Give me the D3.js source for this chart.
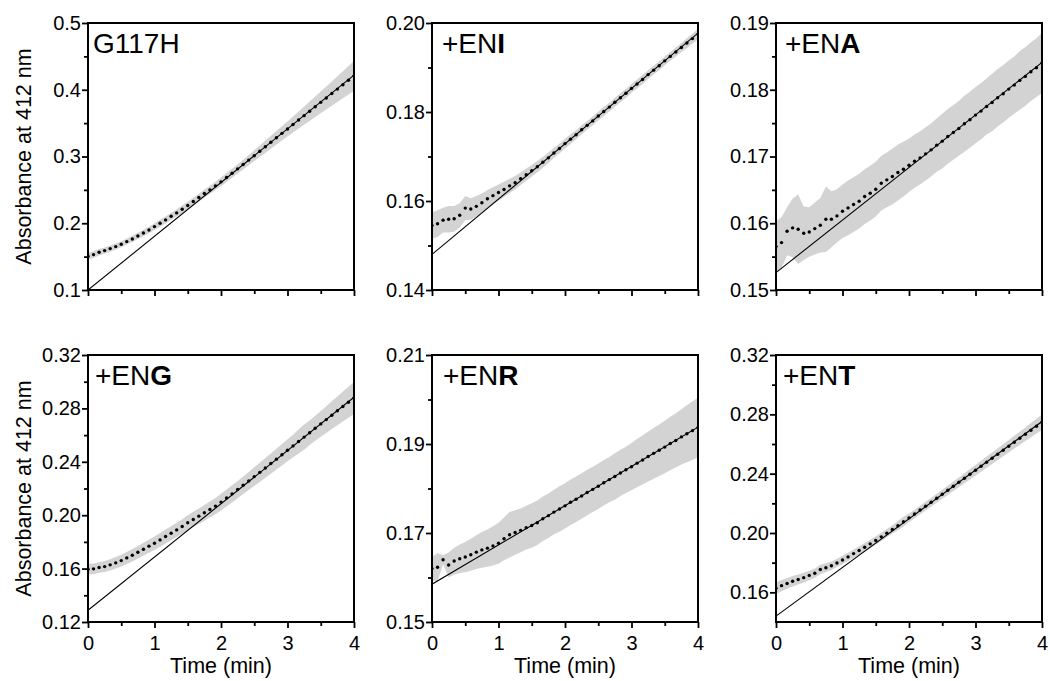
<!DOCTYPE html>
<html>
<head>
<meta charset="utf-8">
<script src="https://cdn.jsdelivr.net/npm/d3@7"></script>
<style>
  html, body { margin: 0; padding: 0; background: #fff; }
  svg { display: block; font-family: "Liberation Sans", Arial, Helvetica, sans-serif; }
</style>
</head>
<body>
<svg id="chart" width="1050" height="681"></svg>
<script>
// Sampling times of the plate reader, in seconds (one read every 5 s for 4 min)
const TIME_S = [0, 5, 10, 15, 20, 25, 30, 35, 40, 45, 50, 55, 60, 65, 70, 75, 80, 85, 90, 95,
  100, 105, 110, 115, 120, 125, 130, 135, 140, 145, 150, 155, 160, 165, 170, 175, 180, 185, 190, 195,
  200, 205, 210, 215, 220, 225, 230, 235, 240];

// Panel titles: plain part and bold residue letter
const TITLE_PLAIN = ["G117H", "+EN", "+EN", "+EN", "+EN", "+EN"];
const TITLE_BOLD  = ["", "I", "A", "G", "R", "T"];

// Mean absorbance at 412 nm
const MEAN_G117H = [0.1505, 0.1530, 0.1565, 0.1590, 0.1620, 0.1650, 0.1685, 0.1725, 0.1765, 0.1810,
  0.1855, 0.1900, 0.1950, 0.2000, 0.2050, 0.2105, 0.2155, 0.2210, 0.2265, 0.2325,
  0.2385, 0.2445, 0.2500, 0.2560, 0.2620, 0.2685, 0.2750, 0.2815, 0.2880, 0.2946,
  0.3012, 0.3079, 0.3146, 0.3213, 0.3280, 0.3347, 0.3413, 0.3480, 0.3546, 0.3612,
  0.3678, 0.3745, 0.3811, 0.3877, 0.3943, 0.4010, 0.4076, 0.4142, 0.4208];
const MEAN_ENI = [0.1545, 0.1549, 0.1557, 0.1559, 0.1560, 0.1568, 0.1584, 0.1582, 0.1588, 0.1596,
  0.1605, 0.1612, 0.1619, 0.1626, 0.1634, 0.1641, 0.1650, 0.1659, 0.1668, 0.1677,
  0.1687, 0.1697, 0.1708, 0.1718, 0.1729, 0.1739, 0.1749, 0.1760, 0.1770, 0.1780,
  0.1791, 0.1801, 0.1811, 0.1822, 0.1832, 0.1842, 0.1853, 0.1863, 0.1873, 0.1884,
  0.1894, 0.1904, 0.1915, 0.1925, 0.1935, 0.1945, 0.1955, 0.1965, 0.1975];
const MEAN_ENA = [0.1565, 0.1571, 0.1588, 0.1593, 0.1591, 0.1585, 0.1587, 0.1592, 0.1597, 0.1606,
  0.1606, 0.1611, 0.1618, 0.1623, 0.1628, 0.1633, 0.1640, 0.1645, 0.1651, 0.1660,
  0.1665, 0.1670, 0.1676, 0.1681, 0.1687, 0.1693, 0.1698, 0.1704, 0.1710, 0.1717,
  0.1723, 0.1730, 0.1736, 0.1742, 0.1749, 0.1755, 0.1762, 0.1768, 0.1775, 0.1781,
  0.1788, 0.1794, 0.1801, 0.1807, 0.1814, 0.1820, 0.1827, 0.1833, 0.1840];
const MEAN_ENG = [0.1595, 0.1598, 0.1608, 0.1615, 0.1628, 0.1643, 0.1660, 0.1680, 0.1700, 0.1723,
  0.1745, 0.1768, 0.1790, 0.1815, 0.1840, 0.1865, 0.1890, 0.1915, 0.1943, 0.1968,
  0.1993, 0.2018, 0.2043, 0.2068, 0.2098, 0.2129, 0.2160, 0.2192, 0.2224, 0.2256,
  0.2289, 0.2321, 0.2354, 0.2387, 0.2420, 0.2453, 0.2486, 0.2519, 0.2552, 0.2585,
  0.2618, 0.2651, 0.2684, 0.2716, 0.2749, 0.2782, 0.2814, 0.2846, 0.2878];
const MEAN_ENR = [0.1620, 0.1623, 0.1640, 0.1628, 0.1637, 0.1642, 0.1646, 0.1651, 0.1657, 0.1662,
  0.1666, 0.1671, 0.1677, 0.1687, 0.1696, 0.1701, 0.1706, 0.1712, 0.1717, 0.1723,
  0.1732, 0.1739, 0.1747, 0.1754, 0.1761, 0.1769, 0.1776, 0.1783, 0.1791, 0.1798,
  0.1805, 0.1813, 0.1820, 0.1827, 0.1835, 0.1842, 0.1849, 0.1857, 0.1864, 0.1872,
  0.1879, 0.1886, 0.1893, 0.1901, 0.1908, 0.1916, 0.1923, 0.1930, 0.1937];
const MEAN_ENT = [0.1628, 0.1645, 0.1660, 0.1675, 0.1687, 0.1699, 0.1714, 0.1729, 0.1754, 0.1766,
  0.1779, 0.1798, 0.1818, 0.1839, 0.1861, 0.1882, 0.1904, 0.1927, 0.1950, 0.1974,
  0.1999, 0.2024, 0.2049, 0.2076, 0.2102, 0.2128, 0.2155, 0.2181, 0.2207, 0.2234,
  0.2261, 0.2288, 0.2315, 0.2342, 0.2369, 0.2396, 0.2423, 0.2450, 0.2477, 0.2504,
  0.2531, 0.2558, 0.2585, 0.2612, 0.2639, 0.2666, 0.2693, 0.2720, 0.2747];

// Standard deviation of the replicates
const SD_G117H = [0.0050, 0.0050, 0.0048, 0.0047, 0.0046, 0.0045, 0.0045, 0.0045, 0.0046, 0.0047,
  0.0048, 0.0049, 0.0050, 0.0051, 0.0052, 0.0053, 0.0054, 0.0055, 0.0056, 0.0057,
  0.0058, 0.0059, 0.0060, 0.0062, 0.0064, 0.0066, 0.0068, 0.0070, 0.0073, 0.0076,
  0.0080, 0.0085, 0.0092, 0.0098, 0.0102, 0.0106, 0.0112, 0.0120, 0.0128, 0.0136,
  0.0145, 0.0154, 0.0163, 0.0172, 0.0182, 0.0192, 0.0202, 0.0212, 0.0222];
const SD_ENI = [0.0030, 0.0030, 0.0028, 0.0030, 0.0029, 0.0027, 0.0027, 0.0024, 0.0023, 0.0021,
  0.0020, 0.0019, 0.0018, 0.0017, 0.0016, 0.0015, 0.0014, 0.0014, 0.0013, 0.0013,
  0.0012, 0.0012, 0.0011, 0.0011, 0.0011, 0.0011, 0.0010, 0.0010, 0.0010, 0.0010,
  0.0010, 0.0010, 0.0010, 0.0010, 0.0010, 0.0010, 0.0010, 0.0010, 0.0010, 0.0010,
  0.0010, 0.0010, 0.0010, 0.0010, 0.0010, 0.0010, 0.0011, 0.0011, 0.0012];
const SD_ENA = [0.0038, 0.0038, 0.0036, 0.0044, 0.0052, 0.0040, 0.0037, 0.0039, 0.0041, 0.0049,
  0.0042, 0.0040, 0.0040, 0.0041, 0.0041, 0.0041, 0.0041, 0.0041, 0.0041, 0.0041,
  0.0041, 0.0042, 0.0042, 0.0041, 0.0040, 0.0040, 0.0040, 0.0040, 0.0040, 0.0040,
  0.0041, 0.0041, 0.0041, 0.0041, 0.0042, 0.0042, 0.0042, 0.0042, 0.0042, 0.0043,
  0.0043, 0.0043, 0.0043, 0.0043, 0.0044, 0.0044, 0.0044, 0.0044, 0.0045];
const SD_ENG = [0.0040, 0.0040, 0.0040, 0.0041, 0.0042, 0.0043, 0.0044, 0.0045, 0.0046, 0.0047,
  0.0048, 0.0049, 0.0050, 0.0051, 0.0052, 0.0053, 0.0054, 0.0055, 0.0056, 0.0057,
  0.0058, 0.0059, 0.0060, 0.0061, 0.0062, 0.0063, 0.0064, 0.0065, 0.0066, 0.0068,
  0.0070, 0.0072, 0.0074, 0.0076, 0.0078, 0.0080, 0.0082, 0.0084, 0.0090, 0.0094,
  0.0092, 0.0094, 0.0097, 0.0100, 0.0104, 0.0108, 0.0112, 0.0116, 0.0120];
const SD_ENR = [0.0026, 0.0032, 0.0010, 0.0028, 0.0030, 0.0032, 0.0034, 0.0036, 0.0038, 0.0040,
  0.0042, 0.0044, 0.0046, 0.0048, 0.0051, 0.0050, 0.0049, 0.0049, 0.0050, 0.0050,
  0.0050, 0.0050, 0.0050, 0.0051, 0.0051, 0.0051, 0.0051, 0.0051, 0.0051, 0.0051,
  0.0051, 0.0051, 0.0051, 0.0052, 0.0052, 0.0052, 0.0053, 0.0054, 0.0055, 0.0056,
  0.0057, 0.0058, 0.0059, 0.0060, 0.0061, 0.0062, 0.0064, 0.0066, 0.0067];
const SD_ENT = [0.0040, 0.0038, 0.0036, 0.0035, 0.0034, 0.0033, 0.0032, 0.0031, 0.0032, 0.0030,
  0.0029, 0.0028, 0.0028, 0.0028, 0.0028, 0.0028, 0.0028, 0.0028, 0.0028, 0.0028,
  0.0028, 0.0028, 0.0030, 0.0034, 0.0030, 0.0028, 0.0028, 0.0029, 0.0029, 0.0030,
  0.0030, 0.0031, 0.0032, 0.0033, 0.0034, 0.0035, 0.0036, 0.0037, 0.0038, 0.0039,
  0.0040, 0.0041, 0.0042, 0.0043, 0.0044, 0.0046, 0.0048, 0.0050, 0.0052];

// Linear fit of each trace: absorbance = intercept + slope * t(min)
const FIT_INTERCEPT = [0.1000, 0.1480, 0.1526, 0.1288, 0.1585, 0.1440];
const FIT_SLOPE     = [0.0805, 0.01243, 0.007875, 0.03988, 0.008818, 0.0328];

// Axis ranges and ticks
const Y_MIN = [0.10, 0.14, 0.15, 0.12, 0.15, 0.14];
const Y_MAX = [0.50, 0.20, 0.19, 0.32, 0.21, 0.32];
const Y_MAJOR = [
  [0.1, 0.2, 0.3, 0.4, 0.5],
  [0.14, 0.16, 0.18, 0.20],
  [0.15, 0.16, 0.17, 0.18, 0.19],
  [0.12, 0.16, 0.20, 0.24, 0.28, 0.32],
  [0.15, 0.17, 0.19, 0.21],
  [0.16, 0.20, 0.24, 0.28, 0.32]
];
const Y_MINOR = [
  [0.15, 0.25, 0.35, 0.45],
  [0.15, 0.17, 0.19],
  [0.155, 0.165, 0.175, 0.185],
  [0.14, 0.18, 0.22, 0.26, 0.30],
  [0.16, 0.18, 0.20],
  [0.18, 0.22, 0.26, 0.30]
];
const Y_DECIMALS = [1, 2, 2, 2, 2, 2];
const X_MAJOR = [0, 1, 2, 3, 4];
const X_MINOR = [0.5, 1.5, 2.5, 3.5];

const X_TITLE = "Time (min)";
const Y_TITLE = "Absorbance at 412 nm";

const MEANS = [MEAN_G117H, MEAN_ENI, MEAN_ENA, MEAN_ENG, MEAN_ENR, MEAN_ENT];
const SDS   = [SD_G117H, SD_ENI, SD_ENA, SD_ENG, SD_ENR, SD_ENT];

// ---- layout ----
const COL_LEFT = [88, 432, 776];
const ROW_TOP = [23, 355];
const PW = 266, PH = 267;
const TITLE_DX = [5, 10, 9, 7, 11, 7];
const TITLE_DY = 30;

const svg = d3.select("#chart");

MEANS.forEach((mean, i) => {
  const col = i % 3, row = Math.floor(i / 3);
  const g = svg.append("g").attr("transform", `translate(${COL_LEFT[col]},${ROW_TOP[row]})`);

  const x = d3.scaleLinear().domain([0, 4]).range([0, PW]);
  const y = d3.scaleLinear().domain([Y_MIN[i], Y_MAX[i]]).range([PH, 0]);

  const pts = TIME_S.map((s, k) => ({ t: s / 60, m: mean[k], sd: SDS[i][k] }));

  const clipId = "clip" + i;
  g.append("clipPath").attr("id", clipId)
    .append("rect").attr("x", 0).attr("y", 0).attr("width", PW).attr("height", PH);
  const plot = g.append("g").attr("clip-path", `url(#${clipId})`);

  // SD band
  plot.append("path")
    .datum(pts)
    .attr("fill", "#d3d3d3")
    .attr("d", d3.area()
      .x(d => x(d.t))
      .y0(d => y(d.m - d.sd))
      .y1(d => y(d.m + d.sd)));

  // linear fit over the full time axis
  const fitEnds = [X_MAJOR[0], X_MAJOR[X_MAJOR.length - 1]]
    .map(t => ({ t, v: FIT_INTERCEPT[i] + FIT_SLOPE[i] * t }));
  plot.append("path")
    .datum(fitEnds)
    .attr("fill", "none")
    .attr("stroke", "#000")
    .attr("stroke-width", 1.1)
    .attr("d", d3.line().x(d => x(d.t)).y(d => y(d.v)));

  // mean trace as dots
  plot.selectAll("circle.pt")
    .data(pts)
    .join("circle")
    .attr("class", "pt")
    .attr("cx", d => x(d.t))
    .attr("cy", d => y(d.m))
    .attr("r", 1.7)
    .attr("fill", "#000");

  // axes
  const fmt = d3.format("." + Y_DECIMALS[i] + "f");
  const yAx = g.append("g")
    .call(d3.axisLeft(y).tickValues(Y_MAJOR[i]).tickSize(6).tickPadding(1).tickFormat(fmt));
  const yMin = g.append("g")
    .call(d3.axisLeft(y).tickValues(Y_MINOR[i]).tickSize(4).tickFormat(""));
  const xAx = g.append("g").attr("transform", `translate(0,${PH})`)
    .call(d3.axisBottom(x).tickValues(X_MAJOR).tickSize(6).tickPadding(8)
      .tickFormat(row === 1 ? d3.format("d") : ""));
  const xMin = g.append("g").attr("transform", `translate(0,${PH})`)
    .call(d3.axisBottom(x).tickValues(X_MINOR).tickSize(4).tickFormat(""));

  [yAx, yMin, xAx, xMin].forEach(a => {
    a.select(".domain").remove();
    a.selectAll(".tick line").attr("stroke", "#000").attr("stroke-width", 1.8);
    a.selectAll(".tick text")
      .attr("fill", "#000")
      .style("font-size", "20px")
      .style("font-family", '"Liberation Sans", Arial, sans-serif');
  });

  // frame
  g.append("rect")
    .attr("x", 0).attr("y", 0).attr("width", PW).attr("height", PH)
    .attr("fill", "none").attr("stroke", "#000").attr("stroke-width", 2);

  // panel title
  const title = g.append("text")
    .attr("x", TITLE_DX[i]).attr("y", TITLE_DY)
    .style("font-size", "28px")
    .attr("fill", "#000");
  title.append("tspan").text(TITLE_PLAIN[i]);
  if (TITLE_BOLD[i]) title.append("tspan").style("font-weight", "bold").text(TITLE_BOLD[i]);

  // axis titles
  if (col === 0) {
    g.append("text")
      .attr("transform", `translate(${-57},${PH / 2}) rotate(-90)`)
      .attr("text-anchor", "middle")
      .style("font-size", "21.5px")
      .attr("fill", "#000")
      .text(Y_TITLE);
  }
  if (row === 1) {
    g.append("text")
      .attr("x", PW / 2).attr("y", PH + 51)
      .attr("text-anchor", "middle")
      .style("font-size", "21.5px")
      .attr("fill", "#000")
      .text(X_TITLE);
  }
});
</script>
</body>
</html>
